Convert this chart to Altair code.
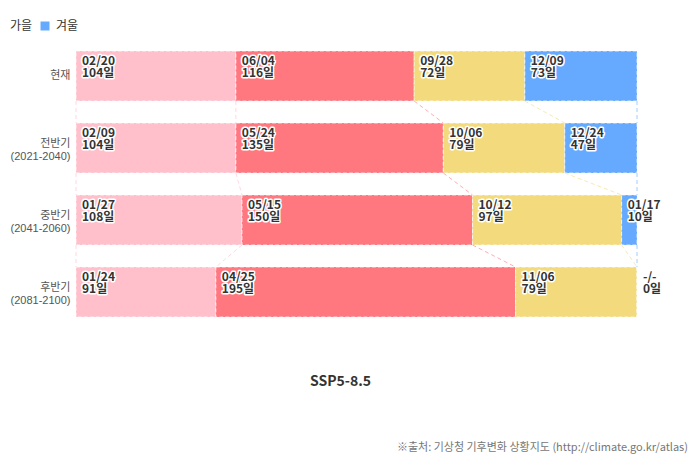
import altair as alt
import pandas as pd

rows = ["현재", "전반기\n(2021-2040)", "중반기\n(2041-2060)", "후반기\n(2081-2100)"]
seasons = ["봄", "여름", "가을", "겨울"]
season_colors = ["#FFC0CB", "#FF7880", "#F3DB7D", "#66AAFF"]
days = [
    [104, 116, 72, 73],
    [104, 135, 79, 47],
    [108, 150, 97, 10],
    [91, 195, 79, 0],
]
dates = [
    ["02/20", "06/04", "09/28", "12/09"],
    ["02/09", "05/24", "10/06", "12/24"],
    ["01/27", "05/15", "10/12", "01/17"],
    ["01/24", "04/25", "11/06", "-/-"],
]
title_text = "SSP5-8.5"
source_text = "※출처: 기상청 기후변화 상황지도 (http://climate.go.kr/atlas)"
FONT = "Noto Sans CJK KR"
AXFONT = "Liberation Sans, Noto Sans CJK KR"

# cumulative positions
cums = []
for r in days:
    c = [0]
    for d in r:
        c.append(c[-1] + d)
    cums.append(c)

bar_recs = []
for i, row in enumerate(rows):
    for k, s in enumerate(seasons):
        bar_recs.append({
            "row": row, "season": s,
            "start": cums[i][k], "end": cums[i][k + 1],
            "label": f"{dates[i][k]}\n{days[i][k]}일",
        })
bars_df = pd.DataFrame(bar_recs)

rule_recs = []
for i in range(len(rows) - 1):
    for k in range(len(seasons) + 1):
        s = seasons[max(k - 1, 0)]
        rule_recs.append({
            "row": rows[i], "next_row": rows[i + 1],
            "start": cums[i][k], "end": cums[i + 1][k], "season": s,
        })
rules_df = pd.DataFrame(rule_recs)

xaxis = alt.Axis(labels=False, ticks=False, domain=False, grid=False,
                 title=title_text, titleX=264, titleY=53, titleFontSize=14,
                 titleFontWeight="bold", titleColor="#333333",
                 titleBaseline="middle", titleAlign="center", titleFont=FONT)
xscale = alt.Scale(domain=[0, 365], nice=False, zero=True)
yaxis = alt.Axis(title=None, ticks=False, domain=False, grid=False,
                 labelExpr="split(datum.label, '\\n')", labelFontSize=11,
                 labelColor="#555555", labelPadding=6, labelLineHeight=13,
                 labelFont=AXFONT,
                 labelOffset={"condition": {"test": "indexof(datum.value, '\\n') >= 0", "value": -4},
                              "value": 0})
yscale = alt.Scale(paddingInner=22 / 72, paddingOuter=11 / 72)
cscale = alt.Scale(domain=seasons, range=season_colors)

base_y = alt.Y("row:N", sort=rows, scale=yscale, axis=yaxis)

bars = alt.Chart(bars_df).mark_bar(
    stroke="white", strokeWidth=1, strokeDash=[4, 2], strokeOpacity=0.7
).encode(
    x=alt.X("start:Q", scale=xscale, axis=xaxis),
    x2="end:Q",
    y=base_y,
    color=alt.Color("season:N", scale=cscale, sort=seasons,
                    legend=alt.Legend(title=None, orient="none", direction="horizontal",
                                      legendX=-164, legendY=-20, symbolType="square",
                                      symbolSize=81, symbolStrokeWidth=0,
                                      labelFontSize=12, labelColor="#333333",
                                      labelOffset=5, columnPadding=6, padding=0,
                                      labelFont=FONT)),
)

rules = alt.Chart(rules_df).mark_rule(strokeDash=[4, 3], strokeWidth=1, opacity=0.6).encode(
    x=alt.X("start:Q", scale=xscale, axis=xaxis),
    x2="end:Q",
    y=alt.Y("row:N", sort=rows, scale=yscale, axis=yaxis, bandPosition=1),
    y2=alt.Y2("next_row:N", bandPosition=0),
    color=alt.Color("season:N", scale=cscale, legend=None),
)

text_enc = dict(
    x=alt.X("start:Q", scale=xscale, axis=xaxis),
    y=alt.Y("row:N", sort=rows, scale=yscale, axis=yaxis, bandPosition=0),
    text="label:N",
)
halo = alt.Chart(bars_df).mark_text(
    align="left", baseline="top", dx=6, dy=5, lineBreak="\n", lineHeight=11.5,
    fontSize=12, fontWeight="bold", font=FONT, stroke="white", strokeWidth=3,
    strokeJoin="round", fill="white",
).encode(**text_enc)
labels = alt.Chart(bars_df).mark_text(
    align="left", baseline="top", dx=6, dy=5, lineBreak="\n", lineHeight=11.5,
    fontSize=12, fontWeight="bold", font=FONT, fill="#333333",
).encode(**text_enc)

chart = alt.layer(bars, rules, halo, labels).properties(
    width=561, height=288,
    autosize=alt.AutoSizeParams(type="none"),
    padding={"left": 68, "top": 32, "right": 52, "bottom": 135},
    title=alt.TitleParams(text=source_text, orient="bottom", anchor="end", frame="group",
                          fontSize=11, color="#777777", fontWeight="normal", font=FONT,
                          dx=51, offset=54),
).configure(font=FONT).configure_view(stroke=None)

chart.save("out.html", embed_options={"renderer": "svg", "actions": False})
